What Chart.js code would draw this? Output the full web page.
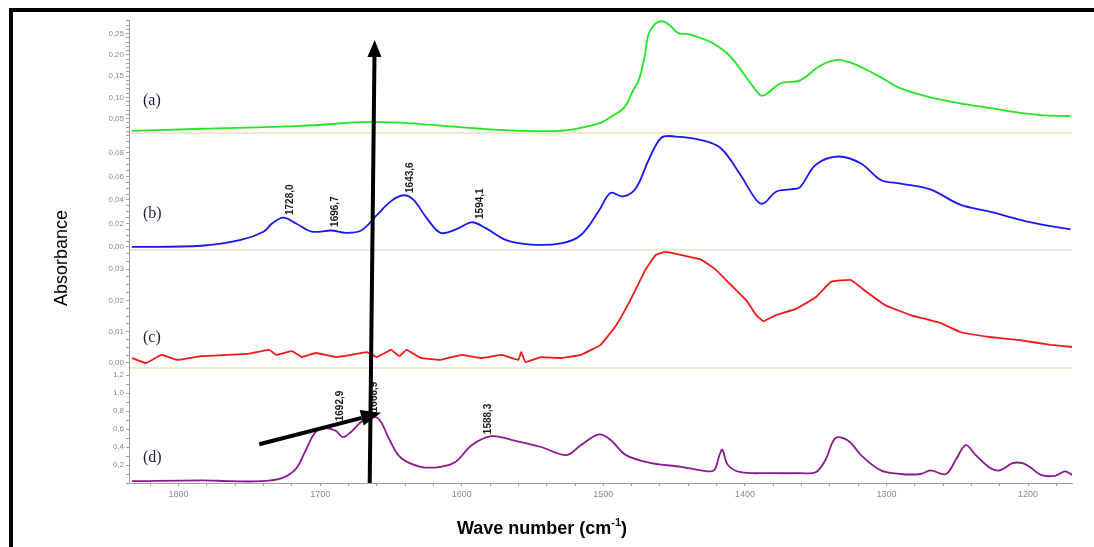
<!DOCTYPE html>
<html>
<head>
<meta charset="utf-8">
<script src="https://cdn.jsdelivr.net/npm/chart.js@4.4.1/dist/chart.umd.min.js"></script>
<style>
  html, body { margin: 0; padding: 0; background: #fff; }
</style>
</head>
<body>
<canvas id="myChart" width="1094" height="547"></canvas>
<script>
// spectra: wave number (cm-1) and absorbance, one pair of arrays per trace
const waveA = [1833,1784,1713,1664,1629,1586,1558,1530,1516,1502,1495,1485,1479,1475,1471,1468,1463,1458,1454,1447,1440,1429,1422,1412,1404,1396,1389,1385,1375,1361,1347,1335,1325,1313,1304,1290,1269,1248,1225,1213,1191,1170];
const absA  = [0.021,0.026,0.033,0.042,0.037,0.026,0.021,0.021,0.028,0.040,0.053,0.077,0.116,0.140,0.193,0.249,0.274,0.279,0.272,0.251,0.249,0.237,0.226,0.202,0.170,0.133,0.105,0.107,0.133,0.140,0.174,0.188,0.181,0.163,0.147,0.121,0.100,0.086,0.074,0.067,0.058,0.056];

const waveB = [1833,1784,1756,1740,1734,1726,1717,1706,1692,1682,1671,1660,1650,1641,1634,1625,1615,1604,1593,1583,1569,1551,1530,1516,1503,1495,1486,1477,1468,1459,1449,1431,1417,1403,1392,1387,1378,1368,1361,1350,1334,1318,1304,1290,1269,1248,1227,1198,1170];
const absB  = [0,0.001,0.006,0.013,0.020,0.025,0.020,0.013,0.014,0.012,0.014,0.027,0.039,0.044,0.040,0.025,0.012,0.015,0.021,0.016,0.006,0.002,0.003,0.010,0.031,0.046,0.043,0.050,0.074,0.093,0.094,0.091,0.084,0.061,0.040,0.037,0.047,0.049,0.051,0.070,0.077,0.071,0.057,0.054,0.049,0.036,0.030,0.021,0.015];

const waveC = [1833,1823,1812,1801,1784,1752,1736,1731,1720,1713,1703,1689,1678,1667,1660,1650,1644,1639,1629,1615,1600,1586,1572,1560,1558,1555,1544,1530,1516,1502,1491,1481,1470,1463,1456,1445,1431,1421,1410,1399,1392,1387,1378,1364,1350,1339,1325,1315,1301,1283,1262,1248,1227,1206,1184,1169];
const absC  = [0.0016,0,0.0026,0.001,0.0022,0.0029,0.0042,0.0026,0.0038,0.0019,0.0032,0.0019,0.0026,0.0035,0.0019,0.0042,0.0022,0.0042,0.0016,0.001,0.0026,0.0016,0.0026,0.001,0.0035,0.0003,0.0019,0.0016,0.0026,0.0058,0.012,0.020,0.030,0.0345,0.0355,0.0345,0.033,0.030,0.025,0.020,0.0153,0.0134,0.0153,0.0173,0.021,0.026,0.0265,0.023,0.0185,0.0153,0.0128,0.0099,0.0083,0.0073,0.0058,0.0051];

const waveD = [1833,1784,1763,1742,1727,1717,1710,1703,1696,1689,1684,1678,1671,1664,1658,1651,1643,1629,1615,1604,1593,1579,1565,1544,1526,1516,1503,1495,1484,1466,1445,1431,1422,1418,1416,1412,1403,1382,1361,1350,1343,1336,1327,1318,1304,1290,1276,1269,1258,1251,1244,1237,1227,1220,1211,1204,1198,1191,1181,1174,1169];
const absD  = [0.02,0.03,0.02,0.02,0.055,0.16,0.37,0.57,0.61,0.58,0.51,0.57,0.68,0.74,0.70,0.48,0.28,0.18,0.18,0.24,0.42,0.52,0.48,0.40,0.31,0.42,0.54,0.48,0.31,0.22,0.18,0.14,0.14,0.31,0.37,0.20,0.12,0.11,0.11,0.12,0.26,0.50,0.47,0.31,0.14,0.10,0.10,0.14,0.10,0.26,0.42,0.31,0.17,0.14,0.22,0.22,0.17,0.09,0.08,0.13,0.09];

// labelled peaks
const peaksB = [1728.0, 1696.7, 1643.6, 1594.1];
const peakLabelsB = ['1728,0', '1696,7', '1643,6', '1594,1'];
const peaksD = [1692.9, 1668.9, 1588.3];
const peakLabelsD = ['1692,9', '1668,9', '1588,3'];

// tick labels
const xTicks = [1800, 1700, 1600, 1500, 1400, 1300, 1200];
const xTickLabels = ['1800', '1700', '1600', '1500', '1400', '1300', '1200'];
const ticksA = [0.05, 0.10, 0.15, 0.20, 0.25];
const tickLabelsA = ['0,05', '0,10', '0,15', '0,20', '0,25'];
const ticksB = [0.00, 0.02, 0.04, 0.06, 0.08];
const tickLabelsB = ['0,00', '0,02', '0,04', '0,06', '0,08'];
const ticksC = [0.00, 0.01, 0.02, 0.03];
const tickLabelsC = ['0,00', '0,01', '0,02', '0,03'];
const ticksD = [0.2, 0.4, 0.6, 0.8, 1.0, 1.2];
const tickLabelsD = ['0,2', '0,4', '0,6', '0,8', '1,0', '1,2'];

const panelNames = ['(a)', '(b)', '(c)', '(d)'];

function toPoints(w, a) {
  return w.map((x, i) => ({ x: x, y: a[i] }));
}

function labelFor(vals, labels) {
  return function (v) {
    const i = vals.findIndex(t => Math.abs(t - v) < 1e-6);
    return i >= 0 ? labels[i] : '';
  };
}

function stepTicks(step) {
  return function (axis) {
    const out = [];
    const first = Math.ceil(axis.min / step - 1e-9);
    for (let k = first; k * step <= axis.max + 1e-9; k++) {
      out.push({ value: +(k * step).toFixed(6) });
    }
    axis.ticks = out;
  };
}

function panelAxis(min, max, stackWeight, order, step, vals, labels) {
  return {
    type: 'linear',
    position: 'left',
    stack: 'spectra',
    stackWeight: stackWeight,
    weight: order,
    min: min,
    max: max,
    afterBuildTicks: stepTicks(step),
    afterFit: function (axis) { axis.width = 129; },
    ticks: {
      autoSkip: false,
      padding: 2,
      color: '#8a8a8a',
      font: { family: 'Liberation Sans', size: 8 },
      callback: labelFor(vals, labels)
    },
    grid: { drawOnChartArea: false, tickLength: 3, color: '#a0a0a0' },
    border: { color: '#a0a0a0' }
  };
}

// linear lookup of a trace at a wave number (waves run downwards)
function valueAt(w, a, x) {
  for (let i = 0; i < w.length - 1; i++) {
    if (x <= w[i] && x >= w[i + 1]) {
      const f = (w[i] - x) / (w[i] - w[i + 1]);
      return a[i] + f * (a[i + 1] - a[i]);
    }
  }
  return a[a.length - 1];
}

function drawArrow(ctx, x1, y1, x2, y2, headLen, headWidth, lineWidth) {
  const ang = Math.atan2(y2 - y1, x2 - x1);
  const bx = x2 - Math.cos(ang) * headLen;
  const by = y2 - Math.sin(ang) * headLen;
  ctx.save();
  ctx.strokeStyle = '#000';
  ctx.fillStyle = '#000';
  ctx.lineWidth = lineWidth;
  ctx.beginPath();
  ctx.moveTo(x1, y1);
  ctx.lineTo(bx, by);
  ctx.stroke();
  const nx = -Math.sin(ang) * headWidth / 2;
  const ny = Math.cos(ang) * headWidth / 2;
  ctx.beginPath();
  ctx.moveTo(x2, y2);
  ctx.lineTo(bx + nx, by + ny);
  ctx.lineTo(bx - nx, by - ny);
  ctx.closePath();
  ctx.fill();
  ctx.restore();
}

const extras = {
  id: 'extras',
  beforeDraw(chart) {
    const ctx = chart.ctx;
    ctx.save();
    ctx.fillStyle = '#fff';
    ctx.fillRect(0, 0, chart.width, chart.height);
    ctx.restore();
  },
  afterDraw(chart) {
    const ctx = chart.ctx;
    const area = chart.chartArea;
    const x = chart.scales.x;
    const axes = [chart.scales.yA, chart.scales.yB, chart.scales.yC, chart.scales.yD];
    ctx.save();

    // pale panel separators
    ctx.strokeStyle = '#f1e8d0';
    ctx.lineWidth = 2;
    axes.slice(0, 3).forEach(s => {
      ctx.beginPath();
      ctx.moveTo(area.left + 1, s.bottom);
      ctx.lineTo(area.right, s.bottom);
      ctx.stroke();
    });

    // panel letters
    const letterLift = [32, 36, 30, 25];
    ctx.fillStyle = '#1c1c3c';
    ctx.font = '16px "Liberation Serif"';
    ctx.textAlign = 'left';
    ctx.textBaseline = 'middle';
    axes.forEach((s, i) => ctx.fillText(panelNames[i], 143, s.bottom - letterLift[i]));

    // rotated peak labels
    ctx.fillStyle = '#1a1a1a';
    ctx.font = 'bold 10px "Liberation Sans Narrow", "Liberation Sans"';
    ctx.textAlign = 'left';
    ctx.textBaseline = 'middle';
    const peakText = (s, w, a, peaks, labels, lift) => {
      peaks.forEach((p, i) => {
        const px = x.getPixelForValue(p) + 10;
        const py = s.getPixelForValue(valueAt(w, a, p)) - lift;
        ctx.save();
        ctx.translate(px, py);
        ctx.rotate(-Math.PI / 2);
        ctx.fillText(labels[i], 0, 0);
        ctx.restore();
      });
    };
    peakText(chart.scales.yB, waveB, absB, peaksB, peakLabelsB, 4);
    peakText(chart.scales.yD, waveD, absD, peaksD, peakLabelsD, 8);

    // arrows
    const yA = chart.scales.yA, yD = chart.scales.yD;
    drawArrow(ctx, x.getPixelForValue(1665), yD.getPixelForValue(0),
      x.getPixelForValue(1661.5), yA.getPixelForValue(0.235), 17, 14, 4);
    drawArrow(ctx, x.getPixelForValue(1743), yD.getPixelForValue(0.43),
      x.getPixelForValue(1657), yD.getPixelForValue(0.78), 20, 16, 4);

    // frame (left and top)
    ctx.fillStyle = '#000';
    ctx.fillRect(9, 8, 4, chart.height - 8);
    ctx.fillRect(9, 8, chart.width - 9, 4);

    // axis titles
    ctx.fillStyle = '#000';
    ctx.textBaseline = 'alphabetic';
    ctx.font = 'bold 18px "Liberation Sans"';
    const t1 = 'Wave number (cm';
    const t2 = '-1';
    const t3 = ')';
    const w1 = ctx.measureText(t1).width;
    const w3 = ctx.measureText(t3).width;
    ctx.font = 'bold 11px "Liberation Sans"';
    const w2 = ctx.measureText(t2).width;
    let tx = 542 - (w1 + w2 + w3) / 2;
    ctx.font = 'bold 18px "Liberation Sans"';
    ctx.fillText(t1, tx, 534);
    tx += w1;
    ctx.font = 'bold 11px "Liberation Sans"';
    ctx.fillText(t2, tx, 526);
    tx += w2;
    ctx.font = 'bold 18px "Liberation Sans"';
    ctx.fillText(t3, tx, 534);

    ctx.font = '18px "Liberation Sans"';
    ctx.textAlign = 'center';
    ctx.textBaseline = 'middle';
    ctx.translate(62, 258);
    ctx.rotate(-Math.PI / 2);
    ctx.fillText('Absorbance', 0, 0);
    ctx.restore();
  }
};

const lineStyle = { pointRadius: 0, borderWidth: 1.8, fill: false };

new Chart(document.getElementById('myChart'), {
  type: 'line',
  data: {
    datasets: [
      Object.assign({ label: '(a)', data: toPoints(waveA, absA), borderColor: '#22e622', yAxisID: 'yA', tension: 0.35 }, lineStyle),
      Object.assign({ label: '(b)', data: toPoints(waveB, absB), borderColor: '#1818f0', yAxisID: 'yB', tension: 0.35 }, lineStyle),
      Object.assign({ label: '(c)', data: toPoints(waveC, absC), borderColor: '#f01818', yAxisID: 'yC', tension: 0.1 }, lineStyle),
      Object.assign({ label: '(d)', data: toPoints(waveD, absD), borderColor: '#8a1a8e', yAxisID: 'yD', tension: 0.35 }, lineStyle)
    ]
  },
  options: {
    responsive: false,
    animation: false,
    layout: { padding: { top: 20, right: 22, left: 0, bottom: 0 } },
    plugins: { legend: { display: false }, tooltip: { enabled: false } },
    scales: {
      x: {
        type: 'linear',
        reverse: true,
        min: 1169,
        max: 1835,
        afterBuildTicks: stepTicks(20),
        afterFit: function (axis) { axis.height = 64; },
        ticks: {
          autoSkip: false,
          maxRotation: 0,
          padding: 3,
          color: '#8a8a8a',
          font: { family: 'Liberation Sans', size: 9 },
          callback: labelFor(xTicks, xTickLabels)
        },
        grid: { drawOnChartArea: false, tickLength: 3, color: '#a0a0a0' },
        border: { color: '#a0a0a0' }
      },
      yD: panelAxis(0, 1.278, 115, 1, 0.1, ticksD, tickLabelsD),
      yC: panelAxis(-0.0016, 0.0361, 118, 2, 0.0025, ticksC, tickLabelsC),
      yB: panelAxis(-0.0026, 0.097, 117, 3, 0.005, ticksB, tickLabelsB),
      yA: panelAxis(0.016, 0.282, 113, 4, 0.01, ticksA, tickLabelsA)
    }
  },
  plugins: [extras]
});
</script>
</body>
</html>
